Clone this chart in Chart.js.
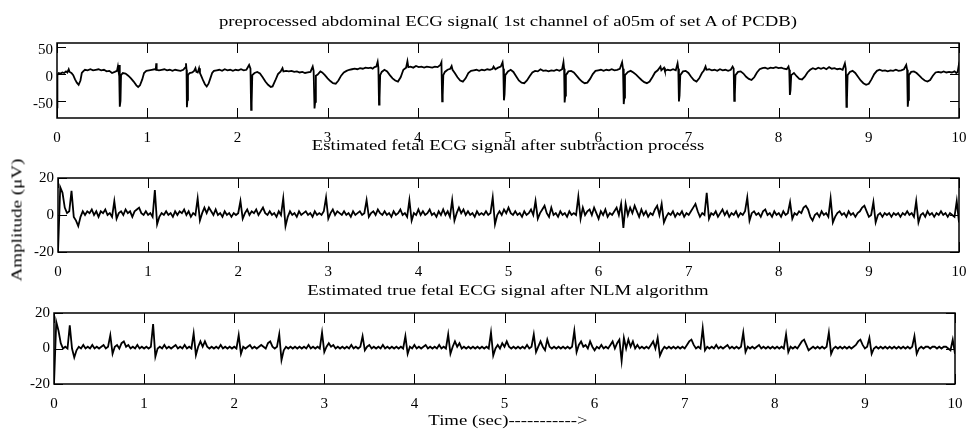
<!DOCTYPE html>
<html>
<head>
<meta charset="utf-8">
<script src="https://cdn.jsdelivr.net/npm/chart.js@4.4.1/dist/chart.umd.min.js"></script>
<style>
  body { margin: 0; background: #fff; }
  #wrap { position: relative; width: 966px; height: 429px; font-family: "Liberation Serif", "Times New Roman", serif; color: #000; }
  canvas { position: absolute; left: 0; }
  .ttl { position: absolute; left: 57px; width: 902px; text-align: center; font-size: 15px; line-height: 18px; white-space: nowrap; z-index: 2; transform: scaleX(1.25); }
  #ylab { position: absolute; left: 17px; top: 220px; transform: translate(-50%, -50%) rotate(-90deg) scaleX(1.27); font-size: 15px; white-space: nowrap; z-index: 2; }
</style>
</head>
<body>
<div id="wrap">
  <div class="ttl" style="top:12px">preprocessed abdominal ECG signal( 1st channel of a05m of set A of PCDB)</div>
  <div class="ttl" style="top:136px">Estimated fetal ECG signal after subtraction process</div>
  <div class="ttl" style="top:281px">Estimated true fetal ECG signal after NLM algorithm</div>
  <div class="ttl" style="top:411px">Time (sec)-----------&gt;</div>
  <div id="ylab">Amplitude (μV)</div>
  <canvas id="abd" width="966" height="150" style="top:0px"></canvas>
  <canvas id="sub" width="966" height="130" style="top:150px"></canvas>
  <canvas id="nlm" width="966" height="149" style="top:280px"></canvas>
</div>
<script>
const xTicks = [0, 1, 2, 3, 4, 5, 6, 7, 8, 9, 10];
const abdYTicks = [-50, 0, 50];
const fetalYTicks = [-20, 0, 20];

// abdominal ECG, [time (s), amplitude]
const abdPoints = [
  [0, -62], [0.003, -40], [0.006, -2], [0.02, 2], [0.04, 1], [0.06, 3], [0.08, 2], [0.1, 5], [0.115, 3], [0.13, 9],
  [0.14, 4], [0.16, 2], [0.18, -2], [0.2, -10], [0.22, -16], [0.24, -20], [0.26, -12], [0.275, 2], [0.29, 5], [0.31, 8],
  [0.34, 7], [0.37, 9], [0.4, 7], [0.43, 8], [0.46, 9], [0.49, 7], [0.52, 8], [0.55, 5], [0.58, 6], [0.61, 2],
  [0.64, 4], [0.665, 6], [0.675, 14], [0.68, 8], [0.688, 17], [0.694, 10], [0.698, -61], [0.704, -50], [0.71, -2],
  [0.73, 2], [0.76, 1], [0.79, -3], [0.82, -8], [0.85, -14], [0.88, -21], [0.9, -24], [0.92, -21], [0.945, -10], [0.965, 2],
  [0.99, 6], [1.02, 7], [1.05, 8], [1.08, 9], [1.095, 8], [1.1, 20], [1.105, 8], [1.13, 7], [1.16, 8], [1.19, 9],
  [1.22, 7], [1.25, 8], [1.28, 6], [1.31, 8], [1.34, 7], [1.37, 6], [1.4, 8], [1.42, 12], [1.43, 20], [1.436, 8],
  [1.44, -62], [1.446, -48], [1.452, -2],
  [1.47, 2], [1.5, 3], [1.52, 6], [1.535, 11], [1.545, 4], [1.56, 3], [1.575, 11], [1.585, 2], [1.6, -4], [1.62, -12],
  [1.64, -19], [1.66, -23], [1.68, -18], [1.7, -8], [1.72, 2], [1.74, 6], [1.77, 7], [1.8, 8], [1.83, 6], [1.86, 9],
  [1.89, 7], [1.92, 8], [1.95, 6], [1.98, 8], [2.01, 7], [2.04, 9], [2.07, 7], [2.1, 8], [2.13, 17], [2.145, 10],
  [2.152, -67], [2.158, -55], [2.165, -2],
  [2.19, 2], [2.22, 4], [2.25, 1], [2.28, -6], [2.31, -14], [2.34, -20], [2.37, -24], [2.39, -23], [2.42, -12], [2.45, 0],
  [2.48, 5], [2.5, 11], [2.51, 5], [2.54, 6], [2.57, 5], [2.6, 6], [2.63, 4], [2.66, 5], [2.69, 3], [2.72, 4],
  [2.75, 2], [2.78, 3], [2.81, 4], [2.835, 14], [2.845, 6], [2.855, -64], [2.862, -52], [2.87, -3],
  [2.89, -1], [2.92, 5], [2.94, 3], [2.97, -2], [3.0, -8], [3.03, -13], [3.06, -17], [3.09, -18], [3.12, -12], [3.15, -3],
  [3.18, 3], [3.21, 6], [3.24, 8], [3.27, 9], [3.3, 10], [3.33, 9], [3.36, 11], [3.39, 10], [3.42, 12], [3.45, 11],
  [3.48, 12], [3.5, 10], [3.52, 13], [3.54, 14], [3.555, 23], [3.563, 12], [3.57, -57], [3.576, -45], [3.583, -2],
  [3.6, 4], [3.63, 8], [3.66, 5], [3.69, -2], [3.72, -8], [3.75, -12], [3.78, -14], [3.81, -6], [3.84, 8], [3.87, 12],
  [3.885, 24], [3.895, 13], [3.92, 14], [3.95, 12], [3.98, 15], [4.01, 13], [4.04, 14], [4.07, 12], [4.1, 14], [4.13, 13],
  [4.16, 12], [4.19, 14], [4.22, 13], [4.25, 17], [4.262, 22], [4.27, -51], [4.276, -40], [4.283, -2],
  [4.3, 4], [4.33, 8], [4.36, 10], [4.375, 15], [4.385, 8], [4.41, 2], [4.44, -6], [4.47, -12], [4.5, -14], [4.53, -8],
  [4.56, 2], [4.59, 6], [4.62, 7], [4.65, 8], [4.68, 6], [4.71, 8], [4.74, 7], [4.77, 9], [4.8, 8], [4.83, 10],
  [4.84, 14], [4.86, 9], [4.89, 12], [4.92, 14], [4.94, 22], [4.948, 10], [4.955, -49], [4.962, -38], [4.97, -2],
  [5.0, 5], [5.03, 8], [5.06, 4], [5.09, -4], [5.12, -12], [5.15, -16], [5.18, -17], [5.21, -12], [5.24, -4], [5.27, 3],
  [5.3, 6], [5.33, 5], [5.36, 9], [5.39, 6], [5.42, 7], [5.45, 5], [5.48, 7], [5.51, 6], [5.54, 8], [5.57, 6],
  [5.6, 9], [5.615, 22], [5.622, 10], [5.628, -53], [5.635, -40], [5.642, -2],
  [5.67, 5], [5.7, 6], [5.73, 3], [5.76, -3], [5.79, -9], [5.82, -14], [5.85, -17], [5.88, -16], [5.91, -9], [5.94, 0],
  [5.97, 6], [6.0, 7], [6.03, 8], [6.06, 6], [6.09, 8], [6.12, 7], [6.15, 9], [6.18, 7], [6.21, 8], [6.24, 10],
  [6.265, 22], [6.275, 10], [6.283, -56], [6.29, -44], [6.297, -2],
  [6.33, 4], [6.36, 6], [6.39, 3], [6.42, -1], [6.45, -6], [6.48, -11], [6.51, -15], [6.54, -17], [6.57, -14], [6.6, -6],
  [6.63, 3], [6.66, 7], [6.69, 14], [6.7, 7], [6.73, 12], [6.74, 6], [6.77, 8], [6.8, 7], [6.83, 9], [6.86, 7],
  [6.88, 20], [6.888, 10], [6.895, -51], [6.902, -40], [6.91, -2],
  [6.94, 5], [6.97, 6], [7.0, 2], [7.03, -5], [7.06, -11], [7.09, -14], [7.12, -8], [7.15, 2], [7.17, 6], [7.19, 14],
  [7.2, 8], [7.23, 9], [7.26, 7], [7.29, 8], [7.32, 6], [7.35, 9], [7.38, 7], [7.41, 8], [7.44, 6], [7.47, 8],
  [7.49, 14], [7.502, 10], [7.508, -50], [7.515, -38], [7.522, -2],
  [7.55, 4], [7.58, 5], [7.61, 1], [7.64, -5], [7.67, -9], [7.7, -11], [7.73, -6], [7.76, 3], [7.79, 9], [7.82, 11],
  [7.85, 12], [7.88, 10], [7.91, 12], [7.94, 11], [7.97, 13], [8.0, 11], [8.03, 12], [8.06, 10], [8.09, 9], [8.11, 14],
  [8.118, 8], [8.125, -39], [8.132, -30], [8.14, -2],
  [8.17, 2], [8.2, -4], [8.23, -9], [8.26, -10], [8.29, -5], [8.32, 3], [8.35, 8], [8.38, 11], [8.41, 9], [8.44, 12],
  [8.47, 10], [8.5, 12], [8.53, 9], [8.56, 13], [8.59, 10], [8.62, 11], [8.65, 9], [8.68, 10], [8.71, 8], [8.735, 20],
  [8.745, 10], [8.752, -61], [8.758, -48], [8.765, -2],
  [8.79, 4], [8.82, 6], [8.85, 2], [8.88, -5], [8.91, -12], [8.94, -17], [8.97, -20], [9.0, -18], [9.03, -10], [9.06, 0],
  [9.09, 6], [9.12, 8], [9.15, 6], [9.18, 7], [9.21, 5], [9.24, 7], [9.27, 6], [9.3, 8], [9.33, 6], [9.36, 7],
  [9.39, 9], [9.415, 17], [9.425, 8], [9.432, -61], [9.438, -48], [9.445, -2],
  [9.47, 4], [9.5, 5], [9.53, 2], [9.56, -3], [9.59, -8], [9.62, -12], [9.65, -14], [9.68, -11], [9.71, -3], [9.74, 3],
  [9.77, 4], [9.8, 3], [9.83, 5], [9.86, 3], [9.89, 4], [9.92, 3], [9.95, 5], [9.97, 2], [9.985, 4], [9.995, 14], [10, 8]
];

// fetal traces sampled at 40 Hz, one line per second
const fs = 40;
const subAmp = [
  -20, 15, 12, 4, 1, 2, 13, -1, -3, -6, -1, 2, 0, 2, 1, 3, 0, 2, -1, 2, 1, 3, 0, 1, -1, 7.5, -2, 1, 2, 0, 3, 1, 2, -1, 2, 3, 4, 1, 0, 2,
  0, 1, -1, 13.5, -5, -1, 1, 0, 2, 0, 1, -1, 2, 0, 2, 1, 3, 0, 2, -1, 1, 0, 9, -3, 1, 4, 1, 4, 2, 0, 3, 0, 1, -1, 2, 0, 1, -1, 1, 0,
  1, 7.5, -2, 1, 3, 0, 2, 1, 3, 0, 2, 4, 1, 0, 2, 0, 1, -1, 2, 0, 9, -6, -1, 2, 0, 1, -1, 2, 0, 1, 2, 0, 1, -1, 2, 0, 1, 0, 2, 9.5,
  -2, 1, 3, 0, 2, 1, 0, 2, 0, 1, -1, 2, 0, 1, 2, 0, 1, 8, -1, 1, 2, 0, 3, 1, 0, 2, 0, 1, -1, 2, 0, 1, 3, 0, 1, -1, 8, -3, 1, 0,
  3, 0, 2, 0, 1, 3, 0, 1, -1, 2, 0, 3, 0, 2, -1, 8, -3, 1, 4, 1, 3, 0, 2, 0, 1, -1, 2, 0, 1, 0, 2, 0, 1, 9.5, -5, 0, 2, 0, 3, 1,
  4, 1, 0, 2, 0, 1, -1, 2, 0, 1, 3, 0, 7.5, -2, 1, 3, 5, 1, -1, 4, 0, 1, -1, 2, 0, 1, -1, 2, 0, 1, 0, 10, -2, 4, 0, 2, 3, 0, 4, 1,
  -2, 2, 0, 3, -1, 1, 0, 2, 4, 0, 6, -7, 6, 0, 4, 1, 5, 2, -1, 3, 0, 2, -1, 1, 0, 3, 5, 0, 6, -4, -1, 1, 0, 2, -1, 1, 0, 2, -1, 1,
  0, 2, 4, 6, 2, -1, 1, 0, 12, -2, 1, 0, 2, -1, 1, 3, 0, 2, -1, 1, 0, 2, -1, 1, 0, 2, 9.5, -3, 1, 2, 0, 1, -1, 2, 3, 0, 1, -1, 2, 0,
  1, -1, 2, 0, 1, 7, -2, 1, 0, 2, 1, 4, 5, 3, -1, -3, 0, 1, -1, 2, 0, 1, -1, 9, -4, -1, 1, 2, 0, 1, -1, 2, 0, 1, -1, 1, 2, 4, 5, 2,
  -1, 0, 7, -4, 0, 1, -1, 1, 0, 1, -1, 1, 0, 1, -1, 1, 0, 2, 0, 1, -1, 7.5, -4, 0, 1, -1, 2, 0, 1, -1, 1, 0, 2, 0, 1, -1, 1, 0, -1, 7.5,
  -4
];
const nlmAmp = [
  -20, 15, 10, 3, 0, 1, 0, 13, 0, -5, -1, 1, 0, 2, 0, 1, 0, 2, 0, 1, 0, 1, 2, 0, 1, 7.5, -3, 1, 2, 0, 3, 4, 1, 2, 0, 1, 0, 2, 0, 1,
  0, 1, 0, 1, 13.8, -4.6, 0, 1, 0, 2, 0, 1, 0, 1, 2, 0, 1, 0, 2, 0, 1, 0, 8.5, -3.7, 1, 4, 1, 4, 1, 0, 1, 0, 1, 0, 2, 0, 1, 0, 1, 0,
  1, 0, 7.6, -3, 1, 0, 1, 2, 0, 1, 0, 1, 2, 1, 0, 3, 4, 1, 0, 1, 8, -6.5, -1, 1, 0, 1, 0, 1, 0, 1, 0, 1, 0, 2, 0, 1, 0, 1, 0, 9,
  -2, 1, 3, 1, 2, 0, 1, 0, 1, 0, 1, 0, 2, 0, 1, 0, 1, 7, -1, 1, 2, 0, 1, 0, 1, 0, 2, 0, 1, 0, 1, 0, 1, 0, 1, 0, 7, -3, 1, 0,
  2, 0, 1, 0, 1, 2, 0, 1, 0, 1, 0, 2, 0, 1, 0, 8, -3, 1, 4, 1, 3, 0, 1, 0, 1, 0, 1, 0, 1, 0, 1, 0, 1, 0, 9, -4, 0, 2, 0, 3,
  1, 4, 1, 0, 1, 0, 1, 0, 1, 0, 2, 0, 1, 8, -2, 1, 4, 1, -1, 5, 1, 0, 1, 0, 1, 0, 1, 0, 1, 0, 1, 10, -2, 2, 4, 1, 2, 0, 4, 1,
  -1, 1, 0, 2, 0, 1, 0, 2, 4, 0, 3, 5, -7, 6, 0, 5, 1, 4, 0, 2, 0, 1, 0, 1, 0, 2, 4, 0, 6, -4, -1, 1, 0, 1, 0, 1, 0, 1, 0, 1,
  0, 2, 4, 5, 2, 0, 1, 0, 11.4, -1, 1, 0, 1, 0, 2, 0, 1, 0, 1, 2, 0, 1, 0, 1, 0, 1, 9, -2, 1, 0, 1, 0, 1, 2, 0, 1, 0, 1, 0, 1,
  0, 1, 0, 1, 0, 8, -2, 1, 0, 1, 0, 2, 4, 5, 2, -1, 0, 1, 0, 1, 0, 1, 0, 1, 9, -3, 0, 1, 0, 1, 0, 1, 0, 1, 0, 1, 2, 4, 5, 2,
  0, 1, 6, -3, 0, 1, 0, 1, 0, 1, 0, 1, 0, 1, 0, 1, 0, 1, 0, 1, 0, 1, 7, -3, 0, 1, 0, 1, 1, 0, 1, 1, 0, 1, 0, 1, 1, 0, -1, 5,
  -3
];

const tickFont = { family: 'Liberation Serif', size: 15 };

// MATLAB style box with inward ticks
const frameTicks = {
  id: 'frameTicks',
  afterDraw(chart) {
    const { ctx, chartArea: a, scales } = chart;
    ctx.save();
    ctx.strokeStyle = '#000';
    ctx.lineWidth = 1;
    ctx.beginPath();
    scales.x.ticks.forEach(t => {
      const px = Math.round(scales.x.getPixelForValue(t.value)) + 0.5;
      ctx.moveTo(px, a.top); ctx.lineTo(px, a.top + 10);
      ctx.moveTo(px, a.bottom); ctx.lineTo(px, a.bottom - 10);
    });
    scales.y.ticks.forEach(t => {
      const py = Math.round(scales.y.getPixelForValue(t.value)) + 0.5;
      ctx.moveTo(a.left, py); ctx.lineTo(a.left + 9, py);
      ctx.moveTo(a.right, py); ctx.lineTo(a.right - 9, py);
    });
    ctx.stroke();
    ctx.lineWidth = 1.5;
    ctx.strokeRect(a.left, a.top, a.right - a.left, a.bottom - a.top);
    ctx.restore();
  }
};

function makePanel(id, points, yMin, yMax, yTicks, box) {
  new Chart(document.getElementById(id), {
    type: 'line',
    data: {
      datasets: [{
        data: points,
        borderColor: '#000',
        borderWidth: 1.8,
        pointRadius: 0,
        tension: 0,
        fill: false
      }]
    },
    options: {
      responsive: false,
      animation: false,
      layout: { padding: { top: box.top, right: box.right, bottom: 0, left: 0 } },
      plugins: { legend: { display: false }, tooltip: { enabled: false } },
      scales: {
        x: {
          type: 'linear', min: 0, max: 10,
          afterBuildTicks: s => { s.ticks = xTicks.map(v => ({ value: v })); },
          afterFit: s => { s.height = box.bottom; s.paddingLeft = 0; s.paddingRight = 0; },
          grid: { display: false, drawTicks: false },
          border: { display: false },
          ticks: { color: '#000', font: tickFont, padding: 11, maxRotation: 0, autoSkip: false }
        },
        y: {
          min: yMin, max: yMax,
          afterBuildTicks: s => { s.ticks = yTicks.map(v => ({ value: v })); },
          afterFit: s => { s.width = box.left; s.paddingTop = 0; s.paddingBottom = 0; },
          grid: { display: false, drawTicks: false },
          border: { display: false },
          ticks: { color: '#000', font: tickFont, padding: 4, labelOffset: box.labelShift || 0 }
        }
      }
    },
    plugins: [frameTicks]
  });
}

makePanel('abd', abdPoints.map(p => ({ x: p[0], y: p[1] })), -82, 58, abdYTicks,
  { left: 57, right: 7, top: 43, bottom: 32, labelShift: 3 });
makePanel('sub', subAmp.map((v, i) => ({ x: i / fs, y: v })), -20, 20, fetalYTicks,
  { left: 58, right: 7, top: 28, bottom: 28 });
makePanel('nlm', nlmAmp.map((v, i) => ({ x: i / fs, y: v })), -20, 20, fetalYTicks,
  { left: 54, right: 11, top: 33, bottom: 45 });
</script>
</body>
</html>
